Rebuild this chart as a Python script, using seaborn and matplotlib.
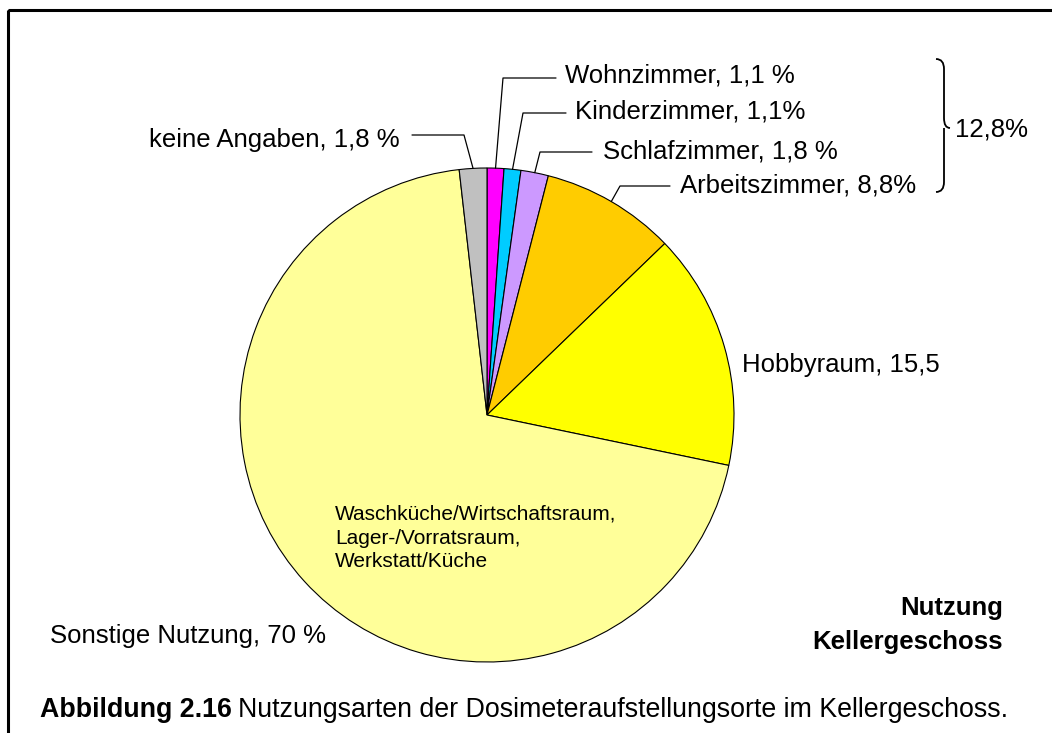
import numpy as np
import matplotlib.pyplot as plt
import seaborn as sns
from matplotlib.path import Path
from matplotlib.patches import PathPatch, Rectangle

# ============================================
# DATA
# ============================================
categories = ['Wohnzimmer', 'Kinderzimmer', 'Schlafzimmer', 'Arbeitszimmer',
              'Hobbyraum', 'Sonstige Nutzung', 'keine Angaben']
shares = [1.1, 1.1, 1.8, 8.8, 15.5, 70.0, 1.8]
labels = ['Wohnzimmer, 1,1 %', 'Kinderzimmer, 1,1%', 'Schlafzimmer, 1,8 %',
          'Arbeitszimmer, 8,8%', 'Hobbyraum, 15,5', 'Sonstige Nutzung, 70 %',
          'keine Angaben, 1,8 %']
colors = ['#FF00FF', '#00CCFF', '#CC99FF', '#FFCC00', '#FFFF00', '#FFFF99', '#C0C0C0']
group_label = '12,8%'
inner_text = 'Waschküche/Wirtschaftsraum,\nLager-/Vorratsraum,\nWerkstatt/Küche'

# ============================================
# FIGURE
# ============================================
sns.set_style("white")
plt.rcParams['font.family'] = ['Liberation Sans', 'DejaVu Sans']
plt.rcParams['text.color'] = 'black'

W, H = 1052, 733
fig = plt.figure(figsize=(W / 100, H / 100), dpi=100)

# pie placement (pixels)
cx, cy, r = 487, 415, 247
ax = fig.add_axes([(cx - r) / W, (H - cy - r) / H, 2 * r / W, 2 * r / H])
ax.pie(shares, colors=colors, startangle=90, counterclock=False,
       wedgeprops=dict(edgecolor='black', linewidth=0.8))
ax.set_xlim(-1, 1)
ax.set_ylim(-1, 1)
ax.set_aspect('equal')
ax.axis('off')

# overlay in pixel coords for labels
ov = fig.add_axes([0, 0, 1, 1], zorder=5)
ov.set_xlim(0, W)
ov.set_ylim(H, 0)
ov.axis('off')
ov.patch.set_alpha(0)

# frame
ov.add_patch(Rectangle((8, 10), W + 20, H + 20, fill=False, edgecolor='black',
                       linewidth=2.2, clip_on=False))

# wedge mid-angle points on the rim
total = sum(shares)
cum = np.cumsum([0] + shares[:-1])
mid_deg = 90 - (cum + np.array(shares) / 2) / total * 360
rim = {c: (cx + r * np.cos(np.radians(a)), cy - r * np.sin(np.radians(a)))
       for c, a in zip(categories, mid_deg)}

fs = 18.5
# (elbow, line end, text pos, ha)
leaders = {
    'Wohnzimmer':    ((503, 78), (556, 78), (565, 76), 'left'),
    'Kinderzimmer':  ((523, 113), (566, 113), (575, 111), 'left'),
    'Schlafzimmer':  ((540, 152), (592, 152), (603, 152), 'left'),
    'Arbeitszimmer': ((620, 186), (670, 186), (680, 186), 'left'),
    'keine Angaben': ((464, 135), (412, 135), (400, 140), 'right'),
}
for cat, lab in zip(categories, labels):
    if cat in leaders:
        (ex, ey), (lx, ly), (tx, ty), ha = leaders[cat]
        px, py = rim[cat]
        ov.plot([px, ex, lx], [py, ey, ly], color='black', linewidth=0.9)
        ov.text(tx, ty, lab, ha=ha, va='center', fontsize=fs)

ov.text(742, 365, labels[4], ha='left', va='center', fontsize=fs)
ov.text(50, 636, labels[5], ha='left', va='center', fontsize=fs)
ov.text(335, 538, inner_text, ha='left', va='center', fontsize=15,
        linespacing=1.3)

# curly brace for the living rooms group
bx, top, bot, tip = 936, 59, 192, 128
verts = [(bx, top), (bx + 8, top), (bx + 8, top + 10),
         (bx + 8, tip - 10),
         (bx + 8, tip), (bx + 14, tip),
         (bx + 8, tip), (bx + 8, tip + 10),
         (bx + 8, bot - 10),
         (bx + 8, bot), (bx, bot)]
codes = [Path.MOVETO, Path.CURVE3, Path.CURVE3,
         Path.LINETO,
         Path.CURVE3, Path.CURVE3,
         Path.MOVETO, Path.CURVE3,
         Path.LINETO,
         Path.CURVE3, Path.CURVE3]
ov.add_patch(PathPatch(Path(verts, codes), fill=False, edgecolor='black',
                       linewidth=1.3))
ov.text(955, 130, group_label, ha='left', va='center', fontsize=fs)

ov.text(1003, 608, 'Nutzung', ha='right', va='center', fontsize=fs,
        fontweight='bold')
ov.text(1003, 642, 'Kellergeschoss', ha='right', va='center', fontsize=fs,
        fontweight='bold')

# caption
cfs = 19.3
cap = ov.text(40, 710, 'Abbildung 2.16', ha='left', va='center', fontsize=cfs,
              fontweight='bold')
fig.canvas.draw()
bb = cap.get_window_extent()
ov.text(40 + bb.width + 6, 710,
        'Nutzungsarten der Dosimeteraufstellungsorte im Kellergeschoss.',
        ha='left', va='center', fontsize=cfs)

plt.savefig('out.png', dpi=100)
